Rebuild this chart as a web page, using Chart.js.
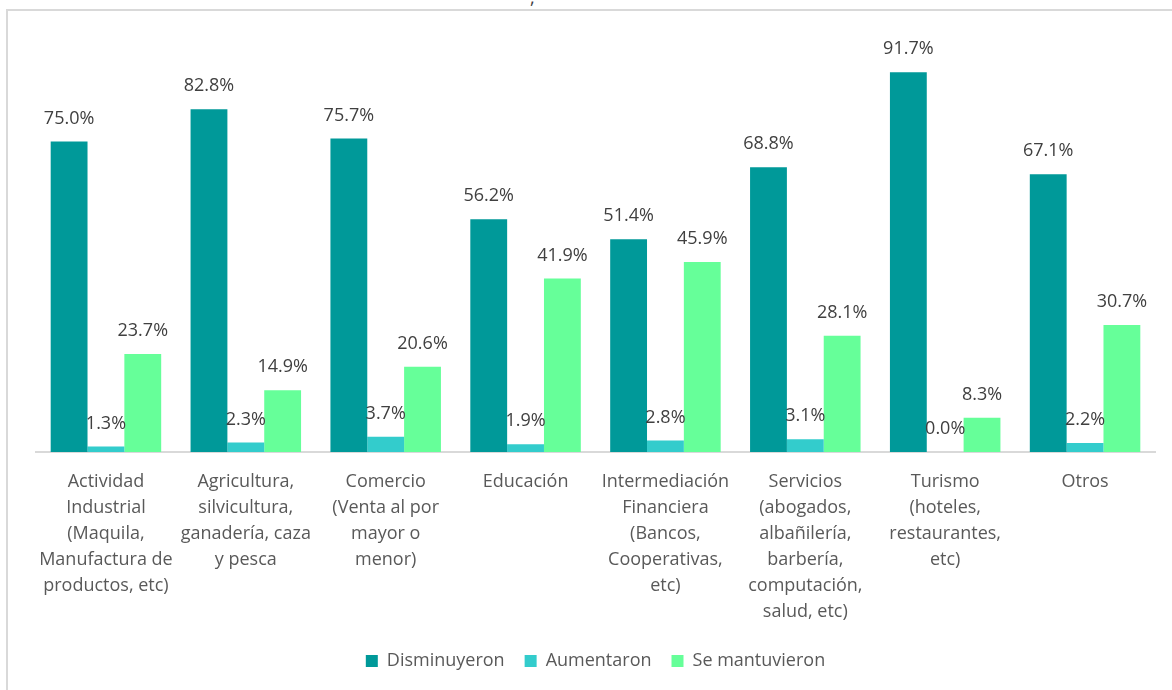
<!DOCTYPE html>
<html>
<head>
<meta charset="utf-8">
<script src="https://cdn.jsdelivr.net/npm/chart.js@4.4.1/dist/chart.umd.min.js"></script>
<style>
  html, body { margin: 0; padding: 0; background: #fff; }
  body { width: 1172px; height: 690px; position: relative; overflow: hidden; font-family: "Open Sans", sans-serif; }
  #frame { position: absolute; left: 6px; top: 9px; width: 1200px; height: 700px; border-left: 2px solid #d9d9d9; border-top: 2px solid #d9d9d9; }
  #title { position: absolute; left: 530px; top: -15px; font-size: 18px; color: #404040; }
  #wrap { position: absolute; left: 0; top: 0; width: 1172px; height: 690px; }
</style>
</head>
<body>
<div id="frame"></div>
<div id="title">,</div>
<div id="wrap"><canvas id="chart"></canvas></div>
<script>
const categories = [
  ["Actividad", "Industrial", "(Maquila,", "Manufactura de", "productos, etc)"],
  ["Agricultura,", "silvicultura,", "ganadería, caza", "y pesca"],
  ["Comercio", "(Venta al por", "mayor o", "menor)"],
  ["Educación"],
  ["Intermediación", "Financiera", "(Bancos,", "Cooperativas,", "etc)"],
  ["Servicios", "(abogados,", "albañilería,", "barbería,", "computación,", "salud, etc)"],
  ["Turismo", "(hoteles,", "restaurantes,", "etc)"],
  ["Otros"]
];
const disminuyeron = [75.0, 82.8, 75.7, 56.2, 51.4, 68.8, 91.7, 67.1];
const aumentaron = [1.3, 2.3, 3.7, 1.9, 2.8, 3.1, 0.0, 2.2];
const seMantuvieron = [23.7, 14.9, 20.6, 41.9, 45.9, 28.1, 8.3, 30.7];

// value labels above each bar
const barLabels = {
  id: "barLabels",
  afterDatasetsDraw(chart) {
    const ctx = chart.ctx;
    ctx.save();
    ctx.font = "18px 'Open Sans'";
    ctx.fillStyle = "#404040";
    ctx.textAlign = "center";
    ctx.textBaseline = "middle";
    chart.data.datasets.forEach((ds, i) => {
      chart.getDatasetMeta(i).data.forEach((bar, j) => {
        ctx.fillText(ds.data[j].toFixed(1) + "%", bar.x, bar.y - 23);
      });
    });
    ctx.restore();
  }
};

new Chart(document.getElementById("chart"), {
  type: "bar",
  data: {
    labels: categories,
    datasets: [
      { label: "Disminuyeron", data: disminuyeron, backgroundColor: "#009999" },
      { label: "Aumentaron", data: aumentaron, backgroundColor: "#33CCCC" },
      { label: "Se mantuvieron", data: seMantuvieron, backgroundColor: "#66FF99" }
    ]
  },
  options: {
    responsive: true,
    maintainAspectRatio: false,
    animation: false,
    categoryPercentage: 0.79,
    barPercentage: 1.0,
    layout: { padding: { left: 36, right: 17, top: 38, bottom: 10 } },
    scales: {
      x: {
        grid: { display: false, drawTicks: false },
        border: { display: true, color: "#d9d9d9", width: 2 },
        ticks: {
          color: "#595959",
          padding: 17,
          maxRotation: 0,
          autoSkip: false,
          font: { family: "'Open Sans'", size: 18, lineHeight: "26px" }
        },
        afterFit(scale) { scale.height = 180; }
      },
      y: {
        display: false,
        min: 0,
        max: 100
      }
    },
    plugins: {
      legend: {
        position: "bottom",
        labels: {
          color: "#595959",
          boxWidth: 12,
          boxHeight: 12,
          padding: 20,
          font: { family: "'Open Sans'", size: 18 }
        }
      },
      tooltip: { enabled: false }
    }
  },
  plugins: [barLabels]
});
</script>
</body>
</html>
